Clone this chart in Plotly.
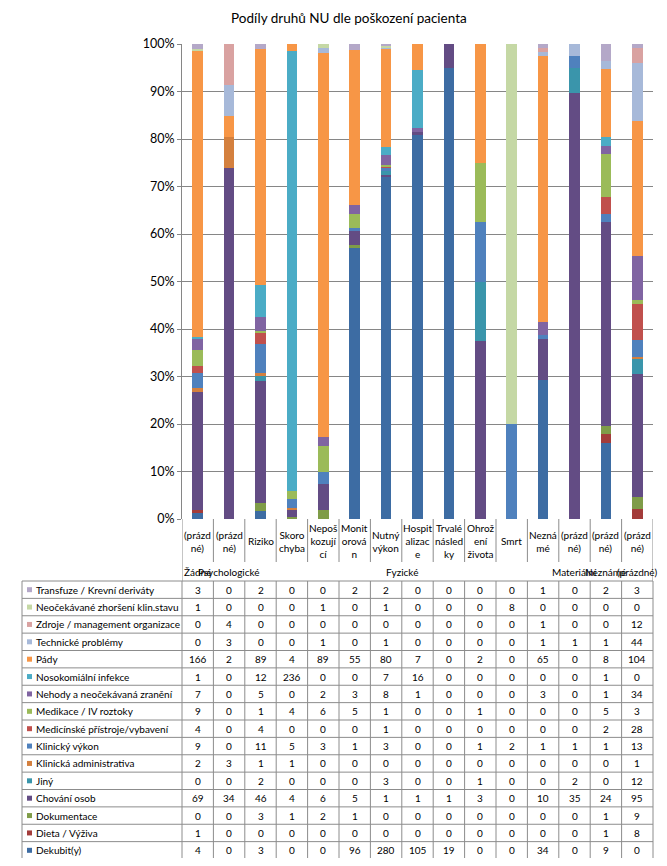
import plotly.graph_objects as go

# ---------------- data ----------------
title_text = "Podíly druhů NU dle poškození pacienta"

category_labels = ["(prázd<br>né)", "(prázd<br>né)", "Riziko", "Skoro<br>chyba",
                   "Nepoš<br>kozují<br>cí", "Monit<br>orová<br>n", "Nutný<br>výkon",
                   "Hospit<br>alizac<br>e", "Trvalé<br>násled<br>ky", "Ohrož<br>ení<br>života",
                   "Smrt", "Nezná<br>mé", "(prázd<br>né)", "(prázd<br>né)", "(prázd<br>né)"]

group_labels = ["Žádné", "Psychologické", "Fyzické", "Materiální", "Neznámé", "(prázdné)"]
group_first = [0, 1, 2, 12, 13, 14]
group_last = [0, 1, 11, 12, 13, 14]

# series, bottom of stack first
series_names = ["Dekubit(y)", "Dieta / Výživa", "Dokumentace", "Chování osob", "Jiný",
                "Klinická administrativa", "Klinický výkon", "Medicínské přístroje/vybavení",
                "Medikace / IV roztoky", "Nehody a neočekávaná zranění", "Nosokomiální infekce",
                "Pády", "Technické problémy", "Zdroje / management organizace",
                "Neočekávané zhoršení klin.stavu", "Transfuze / Krevní deriváty"]

dekubit = [4, 0, 3, 0, 0, 96, 280, 105, 19, 0, 0, 34, 0, 9, 0]
dieta = [1, 0, 0, 0, 0, 0, 0, 0, 0, 0, 0, 0, 0, 1, 8]
dokumentace = [0, 0, 3, 1, 2, 1, 0, 0, 0, 0, 0, 0, 0, 1, 9]
chovani = [69, 34, 46, 4, 6, 5, 1, 1, 1, 3, 0, 10, 35, 24, 95]
jiny = [0, 0, 2, 0, 0, 0, 3, 0, 0, 1, 0, 0, 2, 0, 12]
klin_admin = [2, 3, 1, 1, 0, 0, 0, 0, 0, 0, 0, 0, 0, 0, 1]
klin_vykon = [9, 0, 11, 5, 3, 1, 3, 0, 0, 1, 2, 1, 1, 1, 13]
med_pristroje = [4, 0, 4, 0, 0, 0, 1, 0, 0, 0, 0, 0, 0, 2, 28]
medikace = [9, 0, 1, 4, 6, 5, 1, 0, 0, 1, 0, 0, 0, 5, 3]
nehody = [7, 0, 5, 0, 2, 3, 8, 1, 0, 0, 0, 3, 0, 1, 34]
nosokomialni = [1, 0, 12, 236, 0, 0, 7, 16, 0, 0, 0, 0, 0, 1, 0]
pady = [166, 2, 89, 4, 89, 55, 80, 7, 0, 2, 0, 65, 0, 8, 104]
technicke = [0, 3, 0, 0, 1, 0, 1, 0, 0, 0, 0, 1, 1, 1, 44]
zdroje = [0, 4, 0, 0, 0, 0, 0, 0, 0, 0, 0, 1, 0, 0, 12]
neocekavane = [1, 0, 0, 0, 1, 0, 1, 0, 0, 0, 8, 0, 0, 0, 0]
transfuze = [3, 0, 2, 0, 0, 2, 2, 0, 0, 0, 0, 1, 0, 2, 3]

series_values = [dekubit, dieta, dokumentace, chovani, jiny, klin_admin, klin_vykon,
                 med_pristroje, medikace, nehody, nosokomialni, pady, technicke, zdroje,
                 neocekavane, transfuze]

series_colors = ["#3D6CA3", "#A33C3A", "#7F9C48", "#634C84", "#3A95AB", "#D4803E",
                 "#4F81BD", "#C0504D", "#9BBB59", "#8064A2", "#4BACC6", "#F79646",
                 "#A7B9D9", "#D9A2A1", "#C5D8A5", "#B4A8C8"]

y_ticks = [0, 10, 20, 30, 40, 50, 60, 70, 80, 90, 100]

# ---------------- layout geometry (reference pixel coords) ----------------
OFF = 8  # page body margin
W, H = 667 - 2 * OFF, 866 - 2 * OFF
L, R, T, B = 182, 653, 44, 519
FONT = "Lato, Carlito, Calibri, sans-serif"
GRID = "#868686"
LINE = "#8C8C8C"
TXT = 10


def px2x(px):
    return (px - L) / (R - L)


def py2y(py):
    return (B - py) / (B - T)


ncat = len(category_labels)
xs = list(range(ncat))

fig = go.Figure()
for name, vals, col in zip(series_names, series_values, series_colors):
    fig.add_trace(go.Bar(x=xs, y=vals, name=name, marker=dict(color=col, line=dict(width=0)),
                         showlegend=False))

shapes = []
annotations = []

annotations.append(dict(text=title_text, x=px2x(349), y=py2y(18), xref="paper", yref="paper",
                        showarrow=False, xanchor="center", yanchor="middle",
                        font=dict(family=FONT, size=13.5, color="#000000")))

# category label area
cat_bottom = 562
tab_top = 581
tab_bot = 859
for i in range(ncat + 1):
    xb = i - 0.5
    y_end = tab_top if i in (0, ncat) else cat_bottom
    shapes.append(dict(type="line", xref="x", yref="paper", x0=xb, x1=xb,
                       y0=py2y(B), y1=py2y(y_end),
                       line=dict(color=LINE, width=1)))
for i, lab in enumerate(category_labels):
    annotations.append(dict(text=lab, x=i, y=py2y(541), xref="x", yref="paper",
                            showarrow=False, xanchor="center", yanchor="middle",
                            font=dict(family=FONT, size=TXT, color="#000000")))

for lab, a, b in zip(group_labels, group_first, group_last):
    annotations.append(dict(text=lab, x=(a + b) / 2, y=py2y(572), xref="x", yref="paper",
                            showarrow=False, xanchor="center", yanchor="middle",
                            font=dict(family=FONT, size=TXT, color="#000000")))

# data table
nrows = len(series_names)
rh = (tab_bot - tab_top) / nrows
table_left = 22
for r in range(nrows + 1):
    yy = tab_top + r * rh
    shapes.append(dict(type="line", xref="paper", yref="paper", x0=px2x(table_left), x1=px2x(R),
                       y0=py2y(yy), y1=py2y(yy), line=dict(color=LINE, width=1)))
for xpx in (table_left, L, R):
    shapes.append(dict(type="line", xref="paper", yref="paper", x0=px2x(xpx), x1=px2x(xpx),
                       y0=py2y(tab_top), y1=py2y(tab_bot), line=dict(color=LINE, width=1)))
for i in range(1, ncat):
    shapes.append(dict(type="line", xref="x", yref="paper", x0=i - 0.5, x1=i - 0.5,
                       y0=py2y(tab_top), y1=py2y(tab_bot), line=dict(color=LINE, width=1)))

rows_order = list(range(nrows))[::-1]  # top row = last series
for r, si in enumerate(rows_order):
    yc = tab_top + (r + 0.5) * rh
    shapes.append(dict(type="rect", xref="paper", yref="paper",
                       x0=px2x(27), x1=px2x(32), y0=py2y(yc - 2.5), y1=py2y(yc + 2.5),
                       fillcolor=series_colors[si], line=dict(width=0)))
    annotations.append(dict(text=series_names[si], x=px2x(34), y=py2y(yc), xref="paper", yref="paper",
                            showarrow=False, xanchor="left", yanchor="middle",
                            font=dict(family=FONT, size=TXT, color="#000000")))
    for i, v in enumerate(series_values[si]):
        annotations.append(dict(text=str(v), x=i, y=py2y(yc), xref="x", yref="paper",
                                showarrow=False, xanchor="center", yanchor="middle",
                                font=dict(family=FONT, size=TXT, color="#000000")))

fig.update_layout(
    width=W, height=H,
    margin=dict(l=L - OFF, r=W - (R - OFF), t=T - OFF, b=H - (B - OFF), pad=0),
    paper_bgcolor="white", plot_bgcolor="white",
    barmode="stack", barnorm="percent", bargap=0.66,
    xaxis=dict(range=[-0.5, ncat - 0.5], showticklabels=False, showgrid=False,
               zeroline=False, showline=False, ticks=""),
    yaxis=dict(range=[0, 100], tickvals=y_ticks, ticktext=[f"{t}%" for t in y_ticks],
               showgrid=True, gridcolor=GRID, gridwidth=1, zeroline=False,
               showline=True, linecolor=GRID, linewidth=1, ticks="outside", ticklen=4,
               tickcolor=GRID, tickfont=dict(family=FONT, size=12.5, color="#000000")),
    shapes=shapes, annotations=annotations,
)

fig.write_html("out.html")
